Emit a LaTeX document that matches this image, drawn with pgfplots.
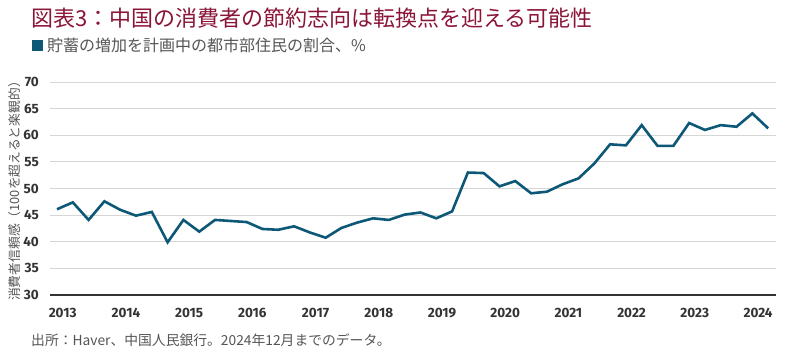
\documentclass[border=0pt]{standalone}
\usepackage{fontspec}
\usepackage{pgfplots}
\pgfplotsset{compat=1.18}
\setmainfont{Noto Sans CJK JP}
\newfontfamily\tickfont{Fira Sans}
\definecolor{titlered}{HTML}{8A1538}
\definecolor{linecol}{HTML}{0D5877}
\definecolor{txtgray}{HTML}{555555}
\definecolor{tickgray}{HTML}{333333}
\definecolor{gridgray}{HTML}{D6D6D6}
\begin{document}
\begin{tikzpicture}[x=1pt,y=1pt]
\path[use as bounding box] (0,0) rectangle (800,360);
\node[anchor=west,inner sep=0pt,text=titlered,font=\fontsize{22}{26}\selectfont] at (31,342) {図表3：中国の消費者の節約志向は転換点を迎える可能性};
\fill[linecol] (32,309) rectangle (43,320);
\node[anchor=west,inner sep=0pt,text=txtgray,font=\fontsize{16}{19}\selectfont] at (47,314.5) {貯蓄の増加を計画中の都市部住民の割合、\%};
\node[anchor=west,inner sep=0pt,text=txtgray,font=\fontsize{13.8}{16}\selectfont] at (31,20) {出所：Haver、中国人民銀行。2024年12月までのデータ。};
\node[rotate=90,inner sep=0pt,text=txtgray,font=\fontsize{12.8}{15}\selectfont] at (15,172) {消費者信頼感（100を超えると楽観的）};
\begin{axis}[
  at={(57pt,65pt)}, anchor=origin,
  scale only axis, width=726pt, height=213pt,
  xmin=-0.44, xmax=45.5, ymin=30, ymax=70,
  ytick={30,35,...,70},
  xtick={0.36,4.36,...,44.36},
  xticklabels={2013,2014,2015,2016,2017,2018,2019,2020,2021,2022,2023,2024},
  major tick length=0pt,
  axis x line*=bottom, axis y line*=left,
  x axis line style={draw=tickgray, line width=1.3pt},
  y axis line style={draw=none},
  ymajorgrids, grid style={gridgray, line width=0.9pt},
  /pgf/number format/assume math mode=true,
  yticklabel style={font=\tickfont\bfseries\fontsize{13.5}{14}\selectfont, text=tickgray, inner sep=0pt, anchor=east, xshift=-11pt},
  xticklabel style={font=\tickfont\bfseries\fontsize{13.5}{14}\selectfont, text=tickgray, inner sep=0pt, anchor=north, yshift=-13pt},
  clip=false,
]
\addplot[linecol, line width=2.6pt, line join=miter, no markers] coordinates {
(0,46.1) (1,47.4) (2,44.1) (3,47.6) (4,46.0) (5,44.9) (6,45.6) (7,39.9)
(8,44.1) (9,41.9) (10,44.1) (11,43.9) (12,43.7) (13,42.4) (14,42.25) (15,42.9)
(16,41.75) (17,40.75) (18,42.6) (19,43.6) (20,44.4) (21,44.1) (22,45.1) (23,45.5)
(24,44.4) (25,45.7) (26,53.0) (27,52.9) (28,50.4) (29,51.4) (30,49.1) (31,49.4)
(32,50.8) (33,51.9) (34,54.7) (35,58.3) (36,58.1) (37,61.9) (38,58.0) (39,58.0)
(40,62.3) (41,61.0) (42,61.9) (43,61.6) (44,64.1) (45,61.3)
};
\end{axis}
\end{tikzpicture}
\end{document}
